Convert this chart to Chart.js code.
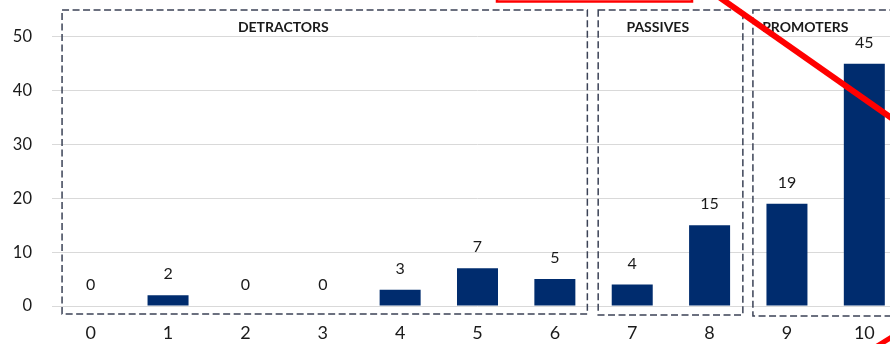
<!DOCTYPE html>
<html>
<head>
<meta charset="utf-8">
<script src="https://cdn.jsdelivr.net/npm/chart.js@4/dist/chart.umd.min.js"></script>
<style>
  html, body { margin: 0; padding: 0; background: #ffffff; overflow: hidden; }
  #wrap { position: relative; width: 903px; height: 344px; }
</style>
</head>
<body>
<div id="wrap"><canvas id="nps"></canvas></div>
<script>
// Score distribution (0-10) and number of respondents per score
const scores = ['0', '1', '2', '3', '4', '5', '6', '7', '8', '9', '10'];
const counts = [0, 2, 0, 0, 3, 7, 5, 4, 15, 19, 45];
const yTicks = [0, 10, 20, 30, 40, 50];

// NPS groups: name, first and last score in the group
const groupNames = ['DETRACTORS', 'PASSIVES', 'PROMOTERS'];
const groupFirst = [0, 7, 9];
const groupLast = [6, 8, 10];

const FONT = 'Lato, "Liberation Sans", sans-serif';
const TEXT = '#1A1A1A';
const BAR = '#002C6E';
const BOX = '#3B4256';

// Dashed frames around each group, with the group title at the top
const groupFrames = {
  id: 'groupFrames',
  afterDatasetsDraw(chart) {
    const { ctx, chartArea, scales: { x, y } } = chart;
    const step = x.getPixelForValue(1) - x.getPixelForValue(0);
    const zero = y.getPixelForValue(0);
    const pad = [
      { l: 0.37, r: 0.42, b: 8, label: 'center', lx: 2.49 },
      { l: 0.44, r: 0.43, b: 9, label: 'center', lx: 7.33 },
      { l: 0.44, r: 0.6, b: 10, label: 'left', lx: 8.68 }
    ];
    ctx.save();
    ctx.strokeStyle = BOX;
    ctx.lineWidth = 1.5;
    ctx.setLineDash([7, 3.5]);
    groupNames.forEach((name, i) => {
      const p = pad[i];
      const left = x.getPixelForValue(groupFirst[i]) - p.l * step;
      const right = x.getPixelForValue(groupLast[i]) + p.r * step;
      const top = chartArea.top;
      const bottom = zero + p.b;
      ctx.strokeRect(left, top, right - left, bottom - top);
    });
    ctx.setLineDash([]);
    ctx.fillStyle = TEXT;
    ctx.font = 'bold 14px ' + FONT;
    ctx.textBaseline = 'middle';
    groupNames.forEach((name, i) => {
      const p = pad[i];
      ctx.textAlign = p.label;
      const lx = x.getPixelForValue(0) + p.lx * step;
      ctx.fillText(name, lx, chartArea.top + 17);
    });
    ctx.restore();
  }
};

// Value written above every bar
const valueLabels = {
  id: 'valueLabels',
  afterDatasetsDraw(chart) {
    const { ctx } = chart;
    const meta = chart.getDatasetMeta(0);
    ctx.save();
    ctx.fillStyle = TEXT;
    ctx.font = '16px ' + FONT;
    ctx.textAlign = 'center';
    ctx.textBaseline = 'middle';
    meta.data.forEach((bar, i) => {
      ctx.fillText(String(counts[i]), bar.x, bar.y - 21);
    });
    ctx.restore();
  }
};

// Red markup strokes laid over the chart
const markup = {
  id: 'markup',
  afterDraw(chart) {
    const { ctx } = chart;
    ctx.save();
    ctx.strokeStyle = '#FF0000';
    ctx.lineWidth = 2.5;
    ctx.strokeRect(497, -20, 195, 21.5);
    ctx.lineWidth = 6;
    ctx.beginPath();
    ctx.moveTo(719, -3);
    ctx.lineTo(900, 124);
    ctx.stroke();
    ctx.lineWidth = 5;
    ctx.beginPath();
    ctx.moveTo(874, 348);
    ctx.lineTo(900, 332);
    ctx.stroke();
    ctx.restore();
  }
};

new Chart(document.getElementById('nps'), {
  type: 'bar',
  data: {
    labels: scores,
    datasets: [{
      data: counts,
      backgroundColor: BAR,
      borderWidth: 0,
      categoryPercentage: 1,
      barPercentage: 0.53
    }]
  },
  options: {
    responsive: true,
    maintainAspectRatio: false,
    animation: false,
    layout: { padding: { top: 10, left: 0, right: 0, bottom: 0 } },
    plugins: { legend: { display: false }, tooltip: { enabled: false } },
    scales: {
      x: {
        grid: { display: false },
        border: { display: false },
        ticks: { color: TEXT, font: { family: FONT, size: 18 }, padding: 8, maxRotation: 0 },
        afterFit(scale) { scale.height = 38; scale.paddingLeft = 0; scale.paddingRight = 0; }
      },
      y: {
        min: 0,
        max: 55,
        grid: { color: '#D9D9D9', lineWidth: 1, drawTicks: false },
        border: { display: false },
        ticks: { color: TEXT, font: { family: FONT, size: 16.5 }, padding: 20, stepSize: 10 },
        afterBuildTicks(scale) { scale.ticks = yTicks.map(v => ({ value: v })); },
        afterFit(scale) { scale.width = 52; scale.paddingTop = 0; scale.paddingBottom = 0; }
      }
    }
  },
  plugins: [groupFrames, valueLabels, markup]
});
</script>
</body>
</html>
